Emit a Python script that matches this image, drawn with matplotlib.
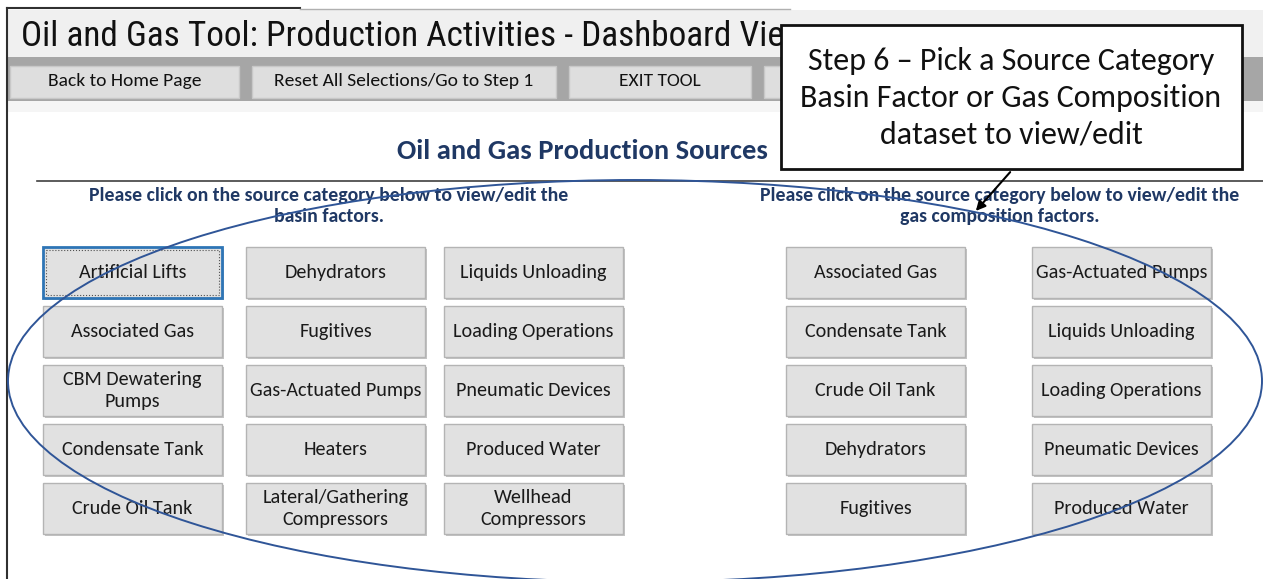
import matplotlib
matplotlib.use('Agg')
import matplotlib.pyplot as plt
from matplotlib.patches import Rectangle, Ellipse
from matplotlib import font_manager

# pick whatever installed family is closest to the Calibri look of the original
def pick(*names):
    have = {f.name for f in font_manager.fontManager.ttflist}
    for n in names:
        if n in have:
            return n
    return 'DejaVu Sans'

body = pick('Carlito', 'Lato', 'Open Sans')
narrow = pick('Liberation Sans Narrow', 'Roboto Condensed', 'Lato')

# ---- content ----
title = 'Oil and Gas Tool: Production Activities - Dashboard View'
toolbar = ['Back to Home Page', 'Reset All Selections/Go to Step 1', 'EXIT TOOL', '']
heading = 'Oil and Gas Production Sources'
left_note = 'Please click on the source category below to view/edit the\nbasin factors.'
right_note = 'Please click on the source category below to view/edit the\ngas composition factors.'
basin_cols = [
    ['Artificial Lifts', 'Associated Gas', 'CBM Dewatering\nPumps', 'Condensate Tank', 'Crude Oil Tank'],
    ['Dehydrators', 'Fugitives', 'Gas-Actuated Pumps', 'Heaters', 'Lateral/Gathering\nCompressors'],
    ['Liquids Unloading', 'Loading Operations', 'Pneumatic Devices', 'Produced Water', 'Wellhead\nCompressors'],
]
gas_cols = [
    ['Associated Gas', 'Condensate Tank', 'Crude Oil Tank', 'Dehydrators', 'Fugitives'],
    ['Gas-Actuated Pumps', 'Liquids Unloading', 'Loading Operations', 'Pneumatic Devices', 'Produced Water'],
]
selected = 'Artificial Lifts'
callout = 'Step 6 \u2013 Pick a Source Category\nBasin Factor or Gas Composition\ndataset to view/edit'

# ---- layout (pixels of the screenshot) ----
W, H = 1263, 579
toolbar_x = [(10, 239), (252, 556), (569, 751), (764, 960)]
basin_x = [43, 246, 444]
gas_x = [786, 1032]
btn_w, btn_h, row_y0, row_step = 179, 51, 247, 59
navy = '#1f3864'

fig = plt.figure(figsize=(W / 100, H / 100), dpi=100)
ax = fig.add_axes([0, 0, 1, 1])
ax.set_xlim(0, W)
ax.set_ylim(H, 0)
ax.axis('off')

# window chrome
ax.add_patch(Rectangle((8, 10), W - 8, 47, fc='#f0f0f0', ec='none', zorder=0))
ax.add_patch(Rectangle((8, 57), W - 8, 44, fc='#a6a6a6', ec='none', zorder=0))
ax.add_patch(Rectangle((8, 101), W - 8, 11, fc='#f5f5f5', ec='none', zorder=0))
ax.plot([7, 7], [8, H], color='#303030', lw=1.5, zorder=1)
ax.plot([7, 300], [8, 8], color='#303030', lw=1.5, zorder=1)
ax.plot([300, 790], [9, 9], color='#b0b0b0', lw=1, zorder=1)

ax.text(21, 36, title, fontsize=25.4, family=narrow, color='#111111', va='center', ha='left', zorder=2)

for (x0, x1), lab in zip(toolbar_x, toolbar):
    ax.add_patch(Rectangle((x0, 66), x1 - x0, 32, fc='#dedede', ec='#c8c8c8', lw=1, zorder=1))
    ax.text((x0 + x1) / 2, 81, lab, fontsize=14, family=body, color='#111111',
            ha='center', va='center', zorder=2)

ax.text(397, 151, heading, fontsize=20.5, family=body, weight='bold', color=navy,
        ha='left', va='center', zorder=2)
ax.plot([37, W], [181, 181], color='#404040', lw=1.2, zorder=1)

ax.text(329, 206, left_note, fontsize=14.2, family=body, weight='bold', color=navy,
        ha='center', va='center', linespacing=1.32, zorder=2)
ax.text(1000, 206, right_note, fontsize=14.2, family=body, weight='bold', color=navy,
        ha='center', va='center', linespacing=1.32, zorder=2)


def button(x, y, lab):
    ax.add_patch(Rectangle((x + 1.5, y + 1.5), btn_w, btn_h, fc='#c4c4c4', ec='none', zorder=1))
    if lab == selected:
        ax.add_patch(Rectangle((x, y), btn_w, btn_h, fc='#e1e1e1', ec='#2e75b6', lw=2, zorder=2))
        ax.add_patch(Rectangle((x + 3, y + 3), btn_w - 6, btn_h - 6, fc='none', ec='#505050',
                               lw=0.8, ls=':', zorder=2))
    else:
        ax.add_patch(Rectangle((x, y), btn_w, btn_h, fc='#e1e1e1', ec='#b4b4b4', lw=1, zorder=2))
    ax.text(x + btn_w / 2, y + btn_h / 2, lab, fontsize=14.5, family=body, color='#1a1a1a',
            ha='center', va='center', linespacing=1.3, zorder=3)


for cx, col in zip(basin_x, basin_cols):
    for i, lab in enumerate(col):
        button(cx, row_y0 + i * row_step, lab)
for cx, col in zip(gas_x, gas_cols):
    for i, lab in enumerate(col):
        button(cx, row_y0 + i * row_step, lab)

# hand-drawn highlight ellipse
ax.add_patch(Ellipse((635, 381), 1254, 402, fill=False, ec='#2f5597', lw=1.4, zorder=4))

# callout box with arrow
ax.add_patch(Rectangle((781, 25), 461, 144, fc='white', ec='#111111', lw=2, zorder=5))
ax.text(1011, 98, callout, fontsize=23, family=body, color='#111111',
        ha='center', va='center', linespacing=1.38, zorder=6)
ax.annotate('', xy=(974, 213), xytext=(1012, 170),
            arrowprops=dict(arrowstyle='-|>', color='black', lw=1.5, mutation_scale=14),
            zorder=6)

fig.savefig('out.png', dpi=100)
